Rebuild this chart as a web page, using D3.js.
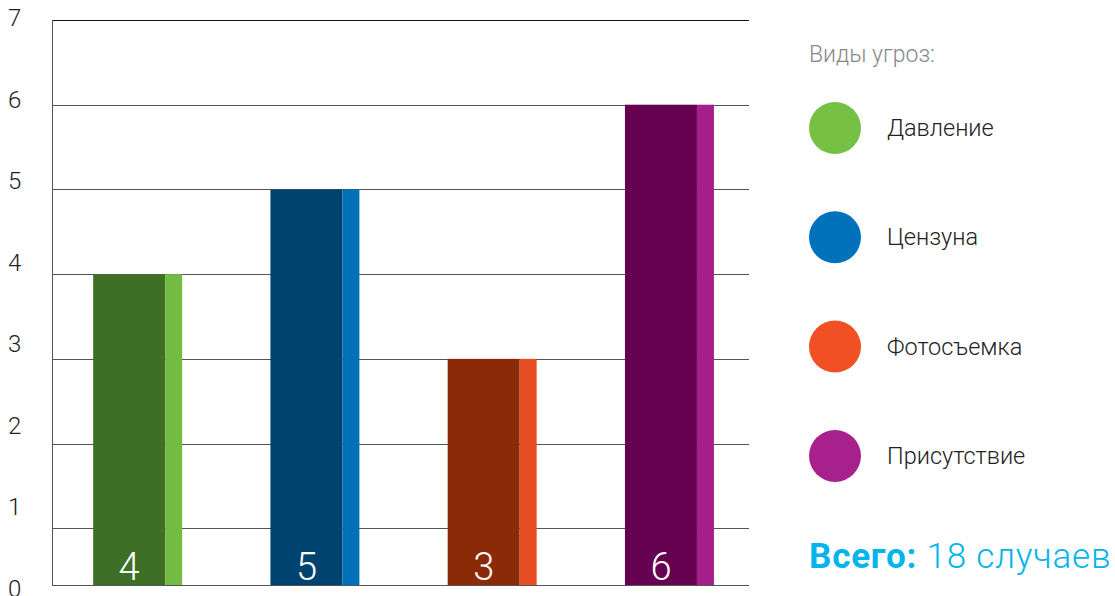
<!DOCTYPE html>
<html>
<head>
<meta charset="utf-8">
<script src="https://cdn.jsdelivr.net/npm/d3@7"></script>
<style>
  body { margin: 0; background: #fff; }
  svg { font-family: Roboto, "Open Sans", sans-serif; }
</style>
</head>
<body>
<div id="chart"></div>
<script>
// data
var categories = ["Давление", "Цензуна", "Фотосъемка", "Присутствие"];
var values = [4, 5, 3, 6];
var darkColors = ["#3d7026", "#004270", "#8a2a06", "#660050"];
var lightColors = ["#74bb44", "#0071b9", "#e84e23", "#a51f8b"];
var legendColors = ["#76c043", "#0071bb", "#f05023", "#a8208c"];
var yTicks = [0, 1, 2, 3, 4, 5, 6, 7];
var totalCount = 18;

function init() {
    var width = 1115, height = 596;
    var baseY = 585;

    var svg = d3.select("#chart").append("svg")
        .attr("width", width)
        .attr("height", height);

    var x = d3.scaleBand()
        .domain(categories)
        .range([52, 749])
        .paddingInner(0.498)
        .paddingOuter(0.215)
        .align(0.54);

    // grid/bars scale (zero sits below the visible baseline)
    var y = d3.scaleLinear()
        .domain([0, 7])
        .range([613, 20]);

    // tick labels are spaced on their own scale
    var yLabel = d3.scaleLinear()
        .domain([0, 7])
        .range([588, 17]);

    svg.append("g")
        .selectAll("line")
        .data(yTicks.filter(function(d) { return d > 0; }))
        .enter().append("line")
          .attr("x1", 52)
          .attr("x2", 749)
          .attr("y1", function(d) { return Math.round(y(d)) + 0.5; })
          .attr("y2", function(d) { return Math.round(y(d)) + 0.5; })
          .attr("stroke", function(d) { return d == 7 ? "#111" : "#555"; })
          .attr("stroke-width", 1);

    svg.append("line")
        .attr("x1", 52.5).attr("x2", 52.5)
        .attr("y1", y(7)).attr("y2", baseY)
        .attr("stroke", "#555");

    svg.append("g")
        .selectAll("text")
        .data(yTicks)
        .enter().append("text")
          .attr("x", 8)
          .attr("y", function(d) { return yLabel(d) + 9; })
          .attr("font-size", 24)
          .attr("font-weight", 300)
          .attr("fill", "#222")
          .text(function(d) { return d; });

    var darkW = x.bandwidth() * 72 / 89;

    var bars = svg.append("g")
        .selectAll("g")
        .data(values)
        .enter().append("g");

    bars.append("rect")
        .attr("x", function(d, i) { return x(categories[i]); })
        .attr("y", function(d) { return y(d); })
        .attr("width", darkW)
        .attr("height", function(d) { return baseY - y(d); })
        .attr("fill", function(d, i) { return darkColors[i]; });

    bars.append("rect")
        .attr("x", function(d, i) { return x(categories[i]) + darkW; })
        .attr("y", function(d) { return y(d); })
        .attr("width", x.bandwidth() - darkW)
        .attr("height", function(d) { return baseY - y(d); })
        .attr("fill", function(d, i) { return lightColors[i]; });

    svg.append("line")
        .attr("x1", 52).attr("x2", 749)
        .attr("y1", baseY + 0.5).attr("y2", baseY + 0.5)
        .attr("stroke", "#555");

    bars.append("text")
        .attr("x", function(d, i) { return x(categories[i]) + darkW / 2; })
        .attr("y", 580)
        .attr("text-anchor", "middle")
        .attr("font-size", 38)
        .attr("font-weight", 300)
        .attr("fill", "#fff")
        .text(function(d) { return d; });

    // legend
    svg.append("text")
        .attr("x", 809)
        .attr("y", 62)
        .attr("font-size", 23)
        .attr("font-weight", 300)
        .attr("fill", "#888")
        .text("Виды угроз:");

    var legend = svg.append("g")
        .selectAll("g")
        .data(categories)
        .enter().append("g")
          .attr("transform", function(d, i) { return "translate(835," + (128 + i * 109.3) + ")"; });

    legend.append("circle")
        .attr("r", 26)
        .attr("fill", function(d, i) { return legendColors[i]; });

    legend.append("text")
        .attr("x", 52)
        .attr("y", 8)
        .attr("font-size", 23.5)
        .attr("font-weight", 300)
        .attr("fill", "#222")
        .text(function(d) { return d; });

    var total = svg.append("text")
        .attr("x", 809)
        .attr("y", 568)
        .attr("font-size", 35)
        .attr("letter-spacing", 0.8)
        .attr("fill", "#00b4ec");
    total.append("tspan").attr("font-weight", 700).text("Всего:");
    total.append("tspan").attr("font-weight", 300).text(" " + totalCount + " случаев");
}

init();
</script>
</body>
</html>
